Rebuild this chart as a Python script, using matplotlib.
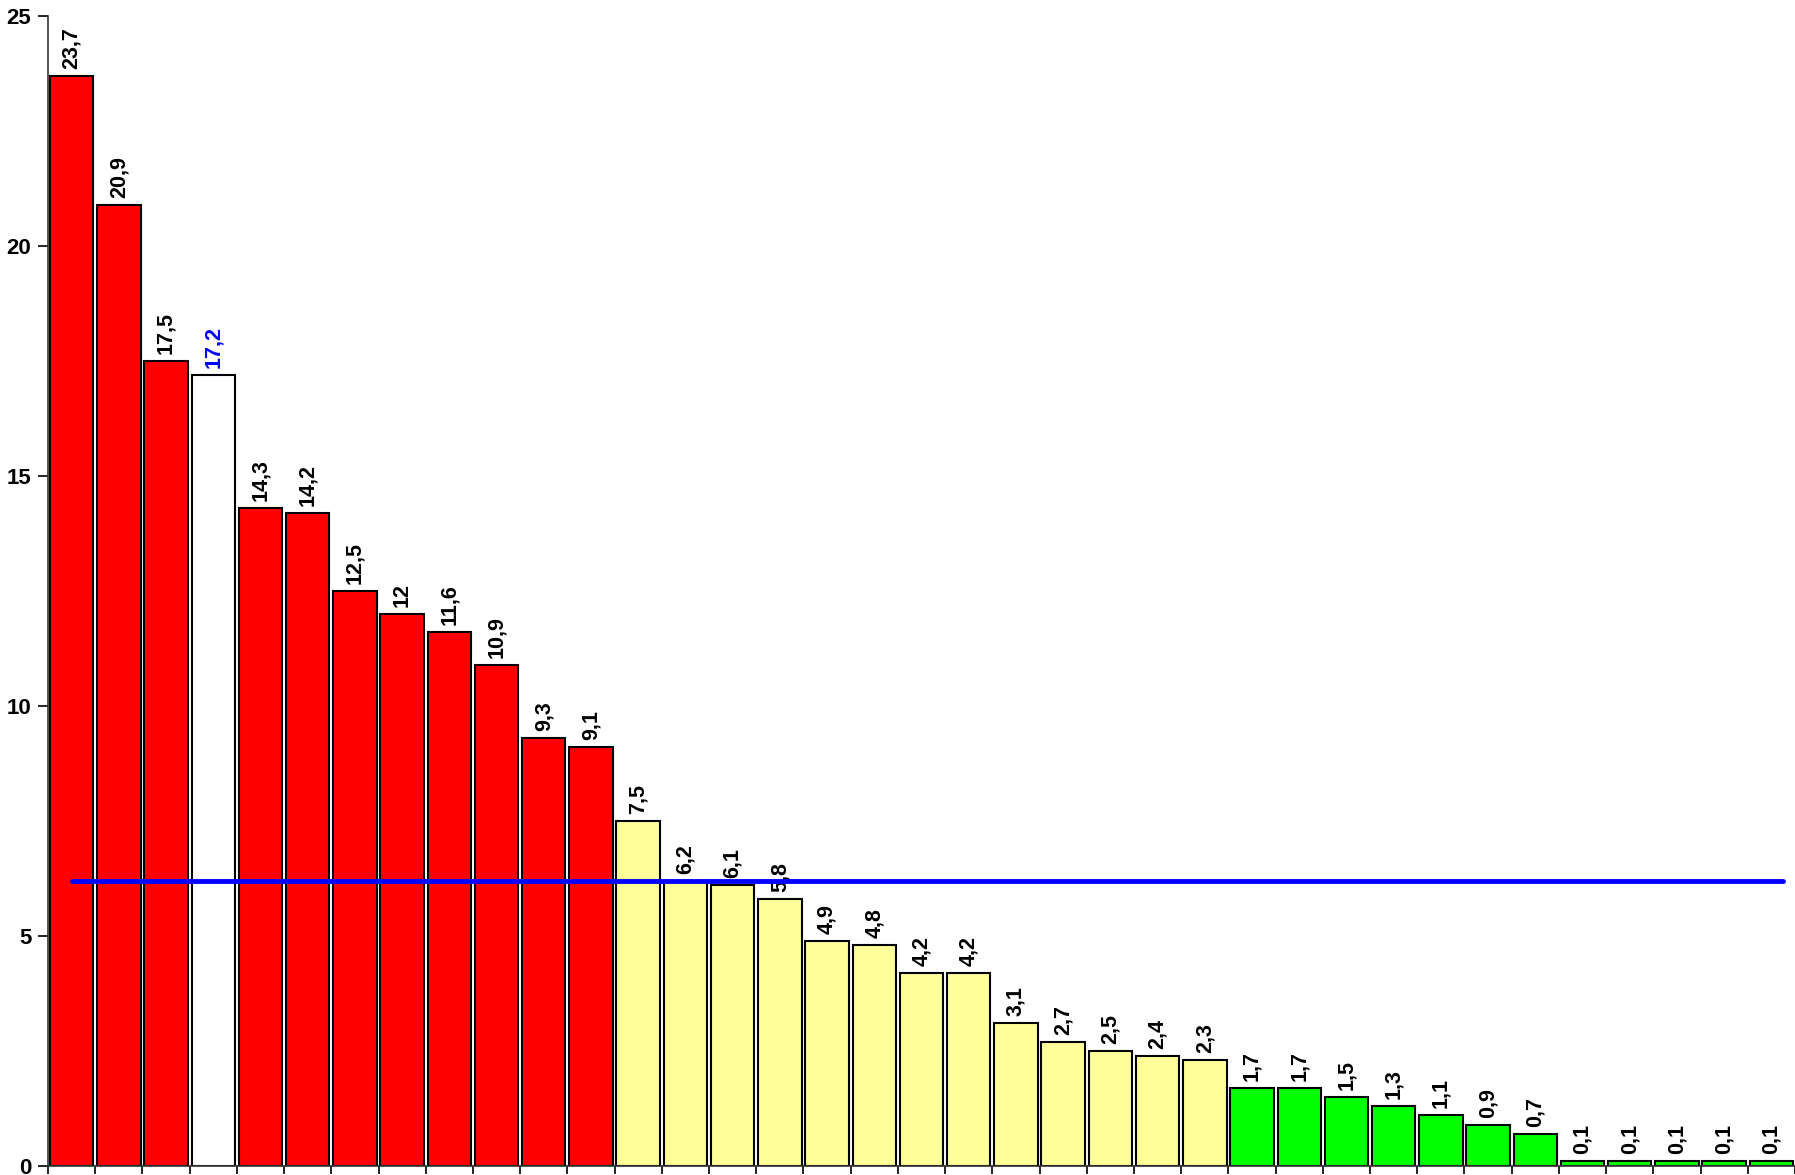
import matplotlib
matplotlib.use("Agg")
import matplotlib.pyplot as plt

values = [23.7, 20.9, 17.5, 17.2, 14.3, 14.2, 12.5, 12, 11.6, 10.9, 9.3, 9.1,
          7.5, 6.2, 6.1, 5.8, 4.9, 4.8, 4.2, 4.2, 3.1, 2.7, 2.5, 2.4, 2.3,
          1.7, 1.7, 1.5, 1.3, 1.1, 0.9, 0.7, 0.1, 0.1, 0.1, 0.1, 0.1]
groups = ["r"] * 3 + ["w"] + ["r"] * 8 + ["y"] * 13 + ["g"] * 12
mean_level = 6.2

palette = {"r": "#FF0000", "w": "#FFFFFF", "y": "#FFFF99", "g": "#00FF00"}
colors = [palette[g] for g in groups]

plt.rcParams["font.family"] = ["Liberation Sans", "DejaVu Sans"]

fig = plt.figure(figsize=(17.95, 11.75), dpi=100)
ax = fig.add_axes([48 / 1795, 9 / 1175, 1 - 48 / 1795, 1150 / 1175])

x = range(len(values))
bars = ax.bar(x, values, width=0.92, color=colors, edgecolor="black", linewidth=1.5, zorder=2)

for i, (b, v) in enumerate(zip(bars, values)):
    txt = ("%g" % v).replace(".", ",")
    ax.annotate(txt, (b.get_x() + b.get_width() / 2, v), xytext=(0, 5),
                textcoords="offset points", rotation=90, ha="center", va="bottom",
                fontsize=15.5, fontweight="bold",
                color="#0000FF" if groups[i] == "w" else "black")

ax.plot([0, len(values) - 0.75], [mean_level, mean_level], color="#0000FF",
        linewidth=3.5, solid_capstyle="round", zorder=3)

ax.set_xlim(-0.5, len(values) - 0.5)
ax.set_ylim(0, 25)
ax.set_yticks([0, 5, 10, 15, 20, 25])
ax.set_xticks([i - 0.5 for i in range(len(values) + 1)])
ax.set_xticklabels([])
ax.tick_params(axis="x", direction="out", length=6, width=1.2)
ax.tick_params(axis="y", direction="out", length=7, width=1.2, labelsize=16, pad=5)
for lab in ax.get_yticklabels():
    lab.set_fontweight("bold")
for s in ["top", "right"]:
    ax.spines[s].set_visible(False)
ax.spines["left"].set_linewidth(1.2)
ax.spines["bottom"].set_linewidth(1.2)
ax.spines["left"].set_color("#333333")
ax.spines["bottom"].set_color("#333333")

fig.savefig("out.png", dpi=100)
